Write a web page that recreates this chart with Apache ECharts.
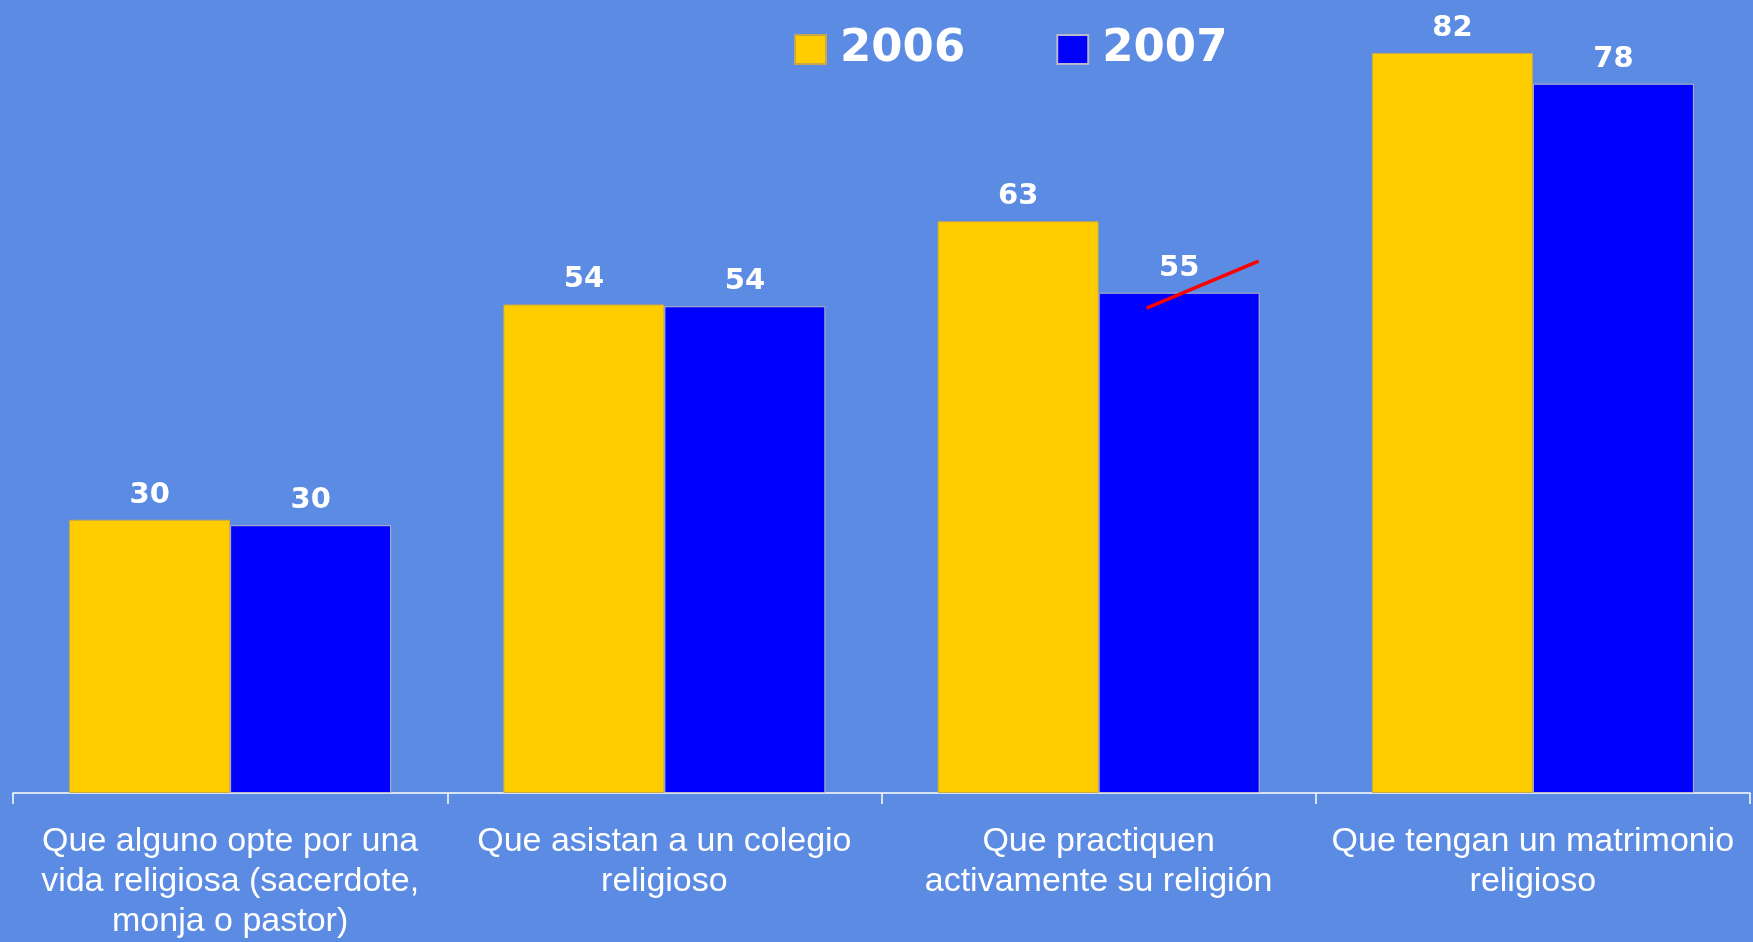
<!DOCTYPE html>
<html>
<head>
<meta charset="utf-8">
<script src="https://cdn.jsdelivr.net/npm/echarts@6/dist/echarts.min.js"></script>
<style>
  html, body { margin: 0; padding: 0; background: #5B8BE2; }
  #main { width: 1753px; height: 942px; }
</style>
</head>
<body>
<div id="main"></div>
<script>
// categories and values
const categories = [
    'Que alguno opte por una\nvida religiosa (sacerdote,\nmonja o pastor)',
    'Que asistan a un colegio\nreligioso',
    'Que practiquen\nactivamente su religión',
    'Que tengan un matrimonio\nreligioso'
];
const values2006 = [30.2, 54.0, 63.2, 81.8];
const values2007 = [29.6, 53.8, 55.3, 78.4];
const seriesNames = ['2006', '2007'];

const chart = echarts.init(document.getElementById('main'));

const labelStyle = {
    show: true,
    position: 'top',
    distance: 10,
    color: '#ffffff',
    fontFamily: 'DejaVu Sans',
    fontWeight: 'bold',
    fontSize: 29,
    formatter: p => Math.round(p.value)
};

chart.setOption({
    backgroundColor: '#5B8BE2',
    animation: false,
    legend: {
        left: 789,
        top: 22,
        icon: 'rect',
        itemWidth: 31,
        itemHeight: 29,
        itemGap: 91,
        textStyle: {
            color: '#ffffff',
            fontFamily: 'DejaVu Sans',
            fontWeight: 'bold',
            fontSize: 45,
            padding: [0, 0, 0, 9]
        },
        data: seriesNames
    },
    grid: { left: 13, right: 3, top: 24, bottom: 149, containLabel: false },
    xAxis: {
        type: 'category',
        data: categories,
        axisLine: { lineStyle: { color: '#ffffff', width: 1.5 } },
        axisTick: { show: true, length: 11, lineStyle: { color: '#ffffff', width: 1.5 } },
        axisLabel: {
            color: '#ffffff',
            fontFamily: 'Liberation Sans',
            fontSize: 34,
            lineHeight: 40,
            margin: 29,
            interval: 0,
            align: 'center'
        }
    },
    yAxis: {
        type: 'value',
        min: 0,
        max: 85,
        show: false,
        splitLine: { show: false }
    },
    series: [
        {
            name: seriesNames[0],
            type: 'bar',
            data: values2006,
            barWidth: 161,
            barGap: '0%',
            itemStyle: { color: '#FFCC00', borderColor: '#C9A84A', borderWidth: 1 },
            label: labelStyle
        },
        {
            name: seriesNames[1],
            type: 'bar',
            data: values2007,
            barWidth: 161,
            itemStyle: { color: '#0000FF', borderColor: '#B8B8C8', borderWidth: 1 },
            label: labelStyle
        }
    ]
});

// red annotation stroke over the 2007 bar of the third category
const a = chart.convertToPixel({ gridIndex: 0 }, [2, 53.6]);
const b = chart.convertToPixel({ gridIndex: 0 }, [2, 58.8]);
chart.setOption({
    graphic: [{
        type: 'line',
        shape: { x1: a[0] + 48, y1: a[1], x2: b[0] + 160, y2: b[1] },
        style: { stroke: '#FF0000', lineWidth: 3.5 },
        z: 100
    }]
});
</script>
</body>
</html>
